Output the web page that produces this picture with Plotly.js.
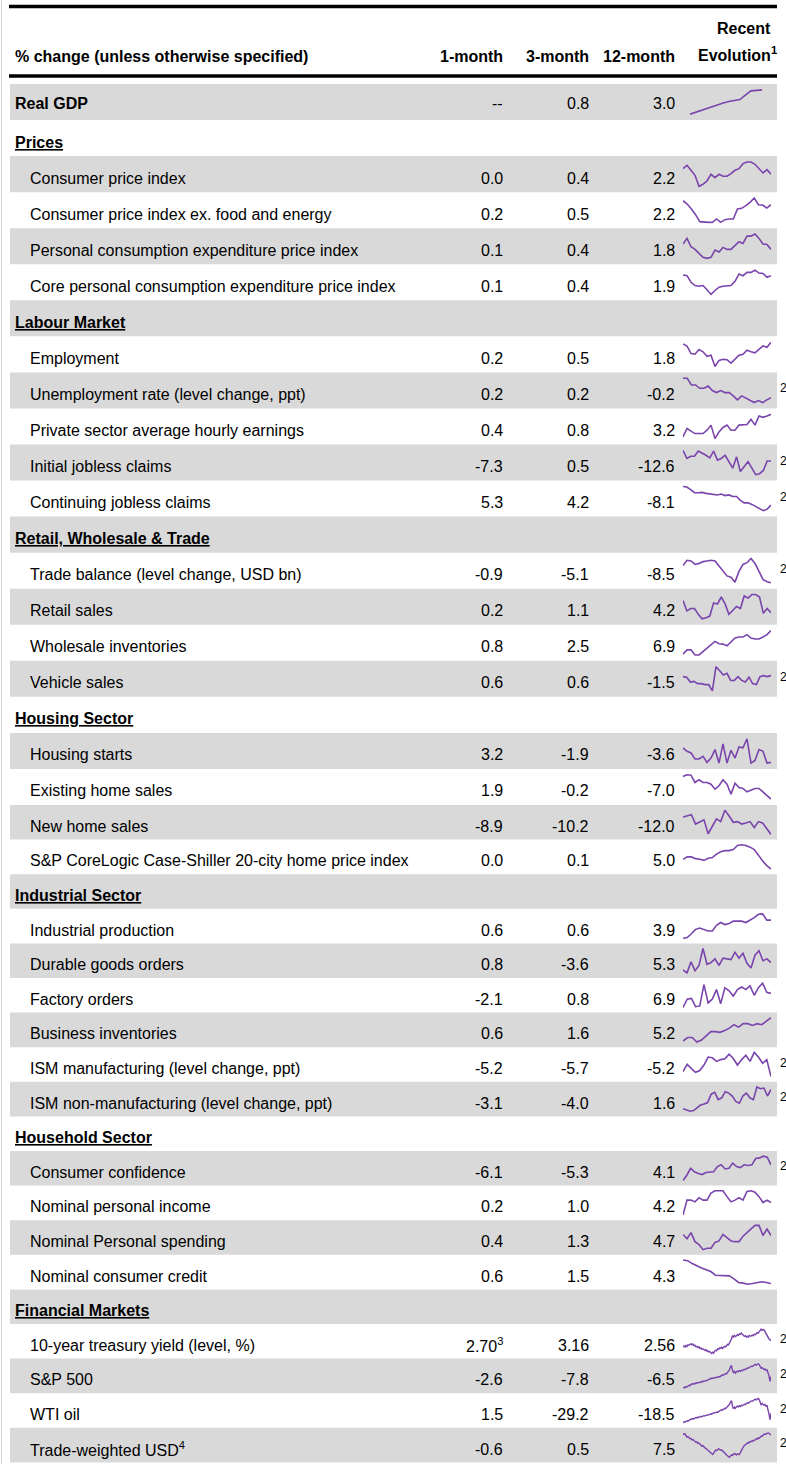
<!DOCTYPE html>
<html><head><meta charset="utf-8">
<script src="https://cdn.plot.ly/plotly-3.0.1.min.js"></script>
<style>html,body{margin:0;padding:0;background:#fff;}#chart{width:786px;height:1464px;}</style>
</head><body><div id="chart"></div>
<script>
// ---------------- DATA ----------------
const headerLabel = "% change (unless otherwise specified)";
const columnHeaders = ["1-month", "3-month", "12-month"];
const sparkHeader = ["Recent", "Evolution<sup>1</sup>"];

const rowLabels = [
  "Real GDP", "Prices",
  "Consumer price index", "Consumer price index ex. food and energy",
  "Personal consumption expenditure price index", "Core personal consumption expenditure price index",
  "Labour Market",
  "Employment", "Unemployment rate (level change, ppt)", "Private sector average hourly earnings",
  "Initial jobless claims", "Continuing jobless claims",
  "Retail, Wholesale &amp; Trade",
  "Trade balance (level change, USD bn)", "Retail sales", "Wholesale inventories", "Vehicle sales",
  "Housing Sector",
  "Housing starts", "Existing home sales", "New home sales",
  "S&amp;P CoreLogic Case-Shiller 20-city home price index",
  "Industrial Sector",
  "Industrial production", "Durable goods orders", "Factory orders", "Business inventories",
  "ISM manufacturing (level change, ppt)", "ISM non-manufacturing (level change, ppt)",
  "Household Sector",
  "Consumer confidence", "Nominal personal income", "Nominal Personal spending", "Nominal consumer credit",
  "Financial Markets",
  "10-year treasury yield (level, %)", "S&amp;P 500", "WTI oil", "Trade-weighted USD<sup>4</sup>"
];
const rowTypes = [
  "total", "section", "item", "item", "item", "item",
  "section", "item", "item", "item", "item", "item",
  "section", "item", "item", "item", "item",
  "section", "item", "item", "item", "item",
  "section", "item", "item", "item", "item", "item", "item",
  "section", "item", "item", "item", "item",
  "section", "item", "item", "item", "item"
];
const oneMonth = ["--","","0.0","0.2","0.1","0.1","","0.2","0.2","0.4","-7.3","5.3","","-0.9","0.2","0.8","0.6","","3.2","1.9","-8.9","0.0","","0.6","0.8","-2.1","0.6","-5.2","-3.1","","-6.1","0.2","0.4","0.6","","2.70<sup>3</sup>","-2.6","1.5","-0.6"];
const threeMonth = ["0.8","","0.4","0.5","0.4","0.4","","0.5","0.2","0.8","0.5","4.2","","-5.1","1.1","2.5","0.6","","-1.9","-0.2","-10.2","0.1","","0.6","-3.6","0.8","1.6","-5.7","-4.0","","-5.3","1.0","1.3","1.5","","3.16","-7.8","-29.2","0.5"];
const twelveMonth = ["3.0","","2.2","2.2","1.8","1.9","","1.8","-0.2","3.2","-12.6","-8.1","","-8.5","4.2","6.9","-1.5","","-3.6","-7.0","-12.0","5.0","","3.9","5.3","6.9","5.2","-5.2","1.6","","4.1","4.2","4.7","4.3","","2.56","-6.5","-18.5","7.5"];
const footnote2 = [0,0,0,0,0,0,0,0,1,0,1,1,0,1,0,0,1,0,0,0,0,0,0,0,0,0,0,1,1,0,1,0,0,0,0,1,1,1,1];

// sparkline series (relative levels)
const sparkRealGDP = [0,8,16,24,32,40,46,52,56,60,78,96,98,100];
const sparkCPI = [65,75,60,45,12,18,28,48,38,48,42,42,50,60,65,80,85,85,78,65,52,62,48];
const sparkCoreCPI = [80,70,55,38,17,15,15,15,25,15,23,25,25,55,57,65,75,88,68,67,58,68];
const sparkPCE = [58,75,50,42,30,18,15,18,40,34,48,42,42,55,65,60,82,82,88,75,58,57,42];
const sparkCorePCE = [67,65,45,35,33,35,22,8,20,30,33,35,35,48,70,65,75,75,82,73,72,60,65];
const sparkEmployment = [73,67,45,43,57,50,37,40,7,25,28,27,17,30,40,43,55,50,47,57,67,63,78];
const sparkUnemployment = [80,80,60,60,50,50,57,43,37,43,37,37,27,15,27,20,13,7,13,7,15,22];
const sparkEarnings = [10,35,27,20,20,20,30,45,5,25,38,45,30,30,45,45,47,62,45,72,68,72,77];
const sparkInitialClaims = [85,60,67,67,83,77,70,62,83,55,60,70,52,30,65,20,35,50,30,10,13,23,52,52];
const sparkContinuingClaims = [82,80,72,62,62,63,60,58,58,55,58,53,55,50,50,38,30,30,25,18,10,5,10,23];
const sparkTradeBalance = [57,72,70,60,63,68,70,72,70,55,43,27,23,9,40,60,65,77,63,40,17,10,7];
const sparkRetailSales = [60,30,37,37,20,7,10,15,53,50,70,50,20,32,43,37,73,67,77,77,70,23,37,25];
const sparkWholesale = [7,20,20,5,5,15,25,37,45,38,37,32,45,55,58,58,65,55,52,52,58,65,77];
const sparkVehicles = [52,50,35,37,30,30,27,27,7,83,70,57,62,40,40,52,40,35,50,30,27,52,55,52,55];
const sparkStarts = [55,45,40,22,22,30,12,25,50,10,67,10,48,25,58,55,82,10,18,50,45,10,12];
const sparkExisting = [73,78,77,55,63,55,55,50,35,45,63,50,20,53,40,37,27,33,37,37,27,15,5];
const sparkNewHome = [55,58,62,35,42,47,7,30,50,42,75,58,40,42,35,38,42,25,42,38,20,5];
const sparkCaseShiller = [35,42,42,37,35,32,38,40,50,57,60,60,63,75,77,75,70,63,47,30,17,7];
const sparkIP = [7,9,20,33,37,33,28,28,45,53,47,50,57,57,57,53,60,67,77,78,60,60];
const sparkDurables = [15,7,37,13,27,73,30,35,45,27,47,45,43,63,47,60,33,20,55,67,40,45,35];
const sparkFactory = [8,30,32,10,12,68,20,30,55,18,60,52,38,55,62,55,65,40,60,72,48,45];
const sparkBizInv = [10,20,20,7,13,25,37,37,35,40,47,57,50,60,60,55,60,57,67,77];
const sparkISMmfg = [22,42,30,20,25,40,62,60,50,55,57,70,58,40,55,67,50,75,62,45,55,8];
const sparkISMnon = [25,22,18,20,28,35,38,42,65,70,50,55,72,68,60,45,40,60,68,55,50,85,80,82,60,78];
const sparkConfidence = [5,20,40,30,25,22,28,30,30,45,50,38,40,55,45,42,50,48,50,68,70,75,72,50];
const sparkIncome = [7,50,50,45,57,50,50,70,77,77,77,60,45,50,57,50,75,77,73,60,43,50,43];
const sparkSpending = [50,38,55,30,22,8,12,12,28,32,50,40,32,30,30,45,55,65,75,75,47,65,47];
const sparkCredit = [72,70,62,55,50,45,40,30,30,30,28,20,10,8,5,7,10,12,10,7];
const spark10y = [22,24,21,25,23,27,26,29,30,27,29,25,26,22,23,20,22,18,19,16,17,15,13,15,11,12,9,10,7,5,8,6,11,13,12,17,15,19,18,21,18,20,23,22,26,28,27,31,35,42,50,47,51,48,50,53,51,55,54,57,54,52,49,50,47,49,47,51,49,50,52,50,54,53,55,58,57,61,64,67,64,66,65,60,55,50,47,42,40,37];
const sparkSP500 = [5,7,6,9,8,11,13,12,15,17,16,18,17,20,19,21,20,22,23,22,25,24,26,27,26,29,30,31,33,32,34,33,35,36,35,37,38,37,40,41,43,42,45,47,46,50,53,58,66,70,56,50,53,48,52,54,52,55,53,56,55,57,59,58,61,63,62,65,66,68,67,70,72,73,71,74,75,73,66,62,64,60,58,60,56,57,50,40,24,38];
const sparkWTI = [7,9,8,10,12,11,14,15,17,16,18,17,19,21,20,22,21,23,24,23,25,26,25,27,28,27,29,30,31,30,32,34,33,35,36,35,38,39,40,42,41,44,46,45,48,50,53,57,63,67,52,45,49,46,50,52,50,53,51,54,53,55,57,56,59,61,60,63,64,66,65,68,70,71,69,72,73,70,62,56,59,55,54,56,52,53,44,30,15,33];
const sparkUSD = [70,67,69,63,60,62,58,56,57,53,54,52,50,47,48,44,45,42,40,37,38,34,33,31,30,27,24,22,19,17,15,19,23,27,25,29,30,28,26,27,25,22,20,17,14,12,10,8,11,14,13,17,18,16,14,17,15,15,20,26,31,35,38,40,42,45,44,48,47,50,49,52,51,54,56,55,58,57,60,63,62,66,68,67,69,70,71,70,68,65];

const rowSpark = [
  sparkRealGDP, null, sparkCPI, sparkCoreCPI, sparkPCE, sparkCorePCE,
  null, sparkEmployment, sparkUnemployment, sparkEarnings, sparkInitialClaims, sparkContinuingClaims,
  null, sparkTradeBalance, sparkRetailSales, sparkWholesale, sparkVehicles,
  null, sparkStarts, sparkExisting, sparkNewHome, sparkCaseShiller,
  null, sparkIP, sparkDurables, sparkFactory, sparkBizInv, sparkISMmfg, sparkISMnon,
  null, sparkConfidence, sparkIncome, sparkSpending, sparkCredit,
  null, spark10y, sparkSP500, sparkWTI, sparkUSD
];

// ---------------- LAYOUT ----------------
const W = 786, H = 1464;
const FONT = "Liberation Sans, Arial, Helvetica, sans-serif";
const FS = 16;
const PURPLE = "#7a44ad";
const GREY = "#d9d9d9";
const TABLE_LEFT = 10, TABLE_RIGHT = 777;
const COL_RIGHT = [505, 591, 677];
const SPARK_L = 683, SPARK_R = 771, SPARK_HALF = 13.5;

function rowTop(i) { return i <= 20 ? 84 + i * 36.05 : 805 + (i - 20) * 34.6; }
function rowHeight(i) { return rowTop(i + 1) - rowTop(i); }
function rowMid(i) { return rowTop(i) + rowHeight(i) / 2; }

const traces = [];
const annotations = [];
const shapes = [];

// grey bands (every other row)
const bandY = [], bandW = [], bandX = [];
rowLabels.forEach((_, i) => {
  if (i % 2 === 0) { bandY.push(rowMid(i)); bandW.push(rowHeight(i)); bandX.push(TABLE_RIGHT - TABLE_LEFT); }
});
traces.push({
  type: "bar", orientation: "h", y: bandY, x: bandX, base: TABLE_LEFT, width: bandW,
  marker: {color: GREY, line: {width: 0}}, hoverinfo: "skip", showlegend: false,
  xaxis: "x", yaxis: "y"
});

const layout = {
  width: W, height: H, autosize: false,
  margin: {l: 0, r: 0, t: 0, b: 0, pad: 0},
  paper_bgcolor: "#fff", plot_bgcolor: "rgba(0,0,0,0)",
  showlegend: false,
  font: {family: FONT, size: FS, color: "#000"},
  xaxis: {range: [0, W], domain: [0, 1], visible: false, fixedrange: true},
  yaxis: {range: [H, 0], domain: [0, 1], visible: false, fixedrange: true},
  annotations: annotations, shapes: shapes
};

function addText(text, x, y, anchor, opts) {
  opts = opts || {};
  annotations.push({
    text: text, x: x, y: y, xref: "x", yref: "y", showarrow: false,
    xanchor: anchor, yanchor: "middle",
    font: {family: FONT, size: opts.size || FS, color: "#000"}
  });
}

// header
addText("<b>" + headerLabel + "</b>", 13, 56, "left");
columnHeaders.forEach((h, k) => addText("<b>" + h + "</b>", COL_RIGHT[k], 56, "right"));
addText("<b>" + sparkHeader[0] + "</b>", 773, 28, "right");
addText("<b>" + sparkHeader[1] + "</b>", 779, 54, "right");

shapes.push({type: "line", xref: "x", yref: "y", x0: 9, x1: TABLE_RIGHT, y0: 6.5, y1: 6.5, line: {color: "#000", width: 3.5}});
shapes.push({type: "line", xref: "x", yref: "y", x0: 9, x1: TABLE_RIGHT, y0: 76, y1: 76, line: {color: "#000", width: 3.5}});
shapes.push({type: "line", xref: "x", yref: "y", x0: 1.5, x1: 1.5, y0: 0, y1: H, line: {color: "#d4d4d4", width: 1}});

// rows
let sparkIdx = 0;
rowLabels.forEach((label, i) => {
  const yc = rowMid(i);
  const type = rowTypes[i];
  const ty = yc + (i === 0 ? 1 : 4);
  if (type === "section") {
    addText("<b><u>" + label + "</u></b>", 13, ty, "left");
  } else if (type === "total") {
    addText("<b>" + label + "</b>", 13, ty, "left");
  } else {
    addText(label, 28, ty, "left");
  }
  [oneMonth, threeMonth, twelveMonth].forEach((col, k) => {
    if (col[i]) addText(col[i], COL_RIGHT[k], ty, "right");
  });
  if (footnote2[i]) addText("2", 778, ty - 6, "left", {size: 12});

  const s = rowSpark[i];
  if (s) {
    sparkIdx += 1;
    const n = sparkIdx + 1;
    const xl = i === 0 ? 690 : SPARK_L, xr = i === 0 ? 762 : SPARK_R;
    layout["xaxis" + n] = {domain: [xl / W, xr / W], anchor: "y" + n, visible: false, fixedrange: true};
    layout["yaxis" + n] = {domain: [1 - (yc + SPARK_HALF) / H, 1 - (yc - SPARK_HALF) / H], anchor: "x" + n, visible: false, fixedrange: true};
    traces.push({
      type: "scatter", mode: "lines", x: s.map((_, j) => j), y: s,
      xaxis: "x" + n, yaxis: "y" + n,
      line: {color: PURPLE, width: s.length > 60 ? 1.4 : 1.6},
      hoverinfo: "skip", showlegend: false
    });
  }
});

Plotly.newPlot("chart", traces, layout, {displayModeBar: false, staticPlot: true});
</script>
</body></html>
